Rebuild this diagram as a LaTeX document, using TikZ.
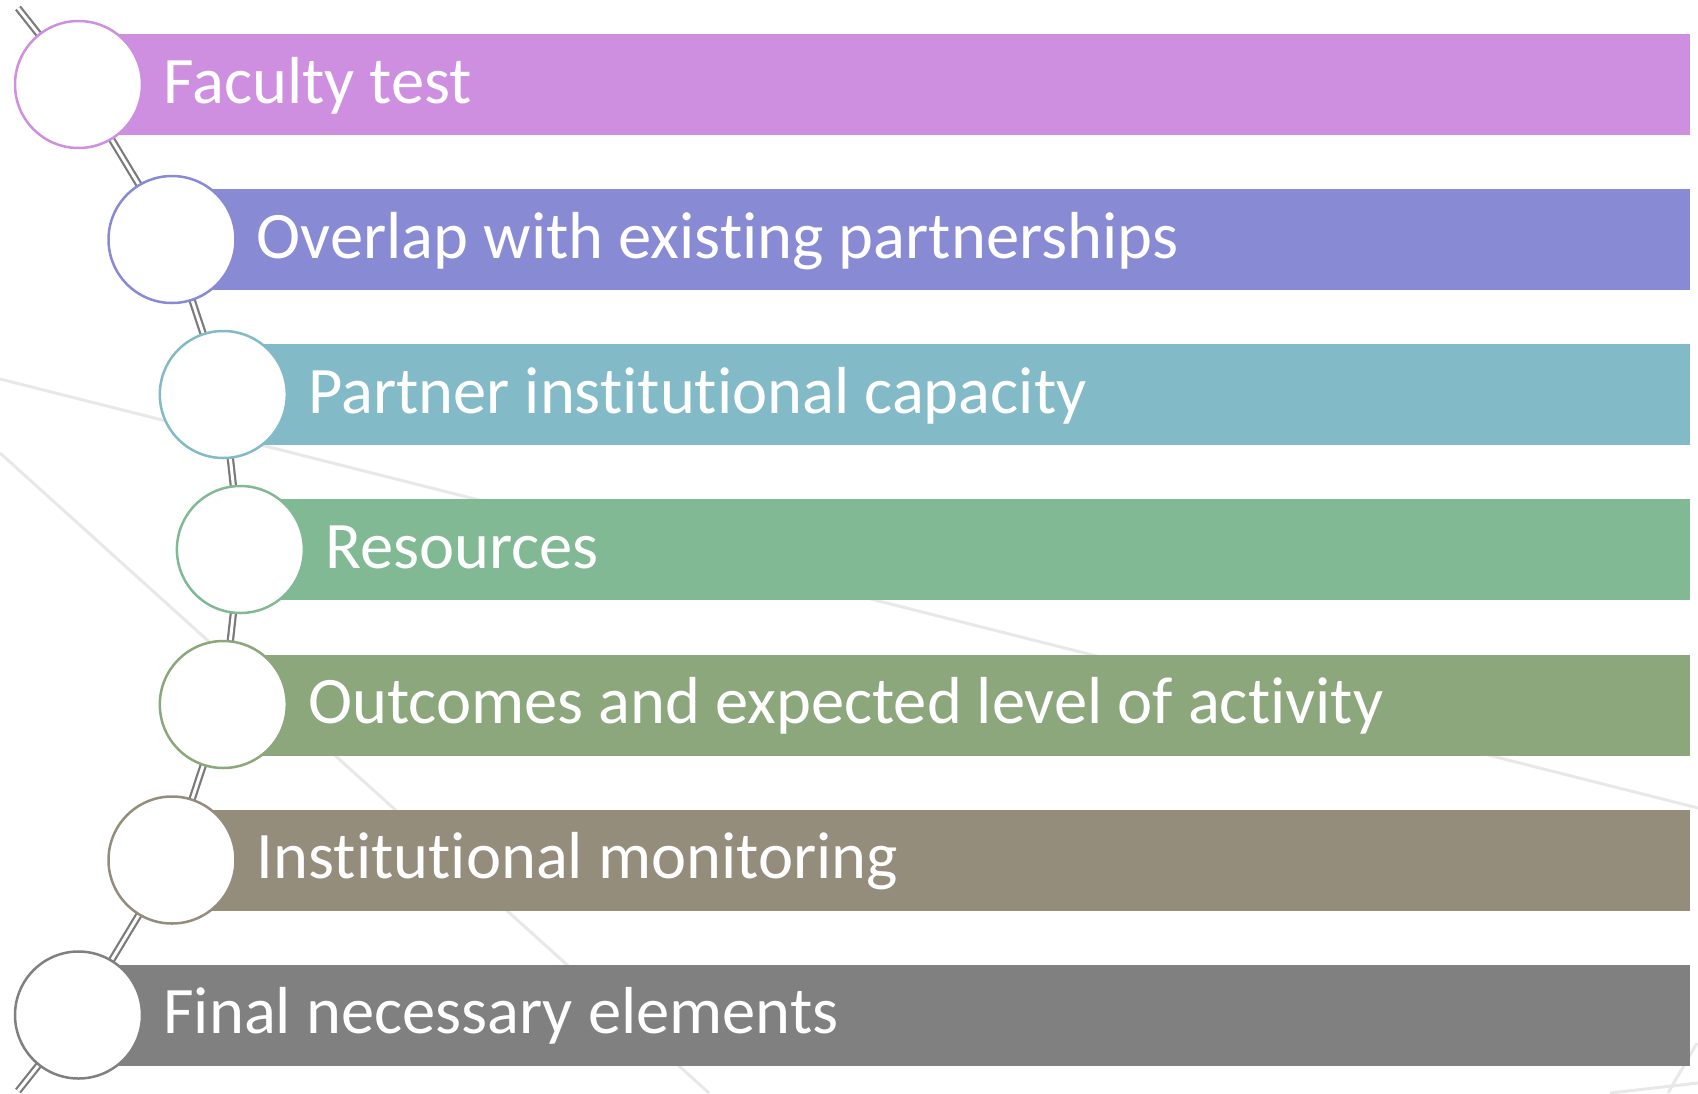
\documentclass[tikz,border=0pt]{standalone}
\usepackage{fontspec}
\setmainfont{Carlito}[Ligatures=NoCommon]
\usetikzlibrary{positioning}

\definecolor{facultyc}{HTML}{CE8FE0}
\definecolor{overlapc}{HTML}{888AD4}
\definecolor{capacityc}{HTML}{82BBC7}
\definecolor{resourcec}{HTML}{80B994}
\definecolor{outcomec}{HTML}{8BA77B}
\definecolor{monitorc}{HTML}{948D7C}
\definecolor{finalc}{HTML}{808080}
\definecolor{linkgray}{HTML}{7A7A7A}
\definecolor{bggray}{HTML}{E8E8E8}

\tikzset{
  stepdot/.style={circle, draw=#1, line width=2.5pt, fill=white, minimum size=127pt, inner sep=0pt},
  steptext/.style={text=white, inner sep=0pt, font=\fontsize{66.5pt}{78pt}\selectfont, text height=47pt, text depth=10pt},
  link/.style={draw=linkgray, line width=2.2pt, double=white, double distance=3pt},
  bgline/.style={draw=bggray, line width=3pt}
}

\begin{document}
\begin{tikzpicture}[x=1pt,y=-1pt]
    \useasboundingbox (0,0) rectangle (1698,1093);

        \draw[bgline] (0,379) -- (1698,808);
        \draw[bgline] (0,453) -- (709,1093);
        \draw[bgline] (1697,1043) -- (1668,1093);
        \draw[bgline] (1610,1093) -- (1698,1083);

        \coordinate (top) at (18,8);
        \coordinate (p1) at (78.5,84.5);
        \coordinate (p2) at (172,239.5);
        \coordinate (p3) at (223.3,394.5);
        \coordinate (p4) at (240.4,549.5);
        \coordinate (p5) at (223.3,704.5);
        \coordinate (p6) at (172,860);
        \coordinate (p7) at (78.5,1015);
        \coordinate (bot) at (18,1091);

        \draw[link] (top) -- (p1) -- (p2) -- (p3) -- (p4) -- (p5) -- (p6) -- (p7) -- (bot);

        \fill[facultyc] (78.5,34) rectangle (1690,135);
        \fill[overlapc] (172,189) rectangle (1690,290);
        \fill[capacityc] (223.3,344) rectangle (1690,445);
        \fill[resourcec] (240.4,499) rectangle (1690,600);
        \fill[outcomec] (223.3,655) rectangle (1690,756);
        \fill[monitorc] (172,810) rectangle (1690,911);
        \fill[finalc] (78.5,965) rectangle (1690,1066);

        \node[stepdot=facultyc] (c1) at (p1) {};
        \node[stepdot=overlapc] (c2) at (p2) {};
        \node[stepdot=capacityc] (c3) at (p3) {};
        \node[stepdot=resourcec] (c4) at (p4) {};
        \node[stepdot=outcomec] (c5) at (p5) {};
        \node[stepdot=monitorc] (c6) at (p6) {};
        \node[stepdot=finalc] (c7) at (p7) {};

        \node[steptext, right=20pt of c1] (t1) {Faculty test};
        \node[steptext, right=20pt of c2] (t2) {Overlap with existing partnerships};
        \node[steptext, right=20pt of c3] (t3) {Partner institutional capacity};
        \node[steptext, right=20pt of c4] (t4) {Resources};
        \node[steptext, right=20pt of c5] (t5) {Outcomes and expected level of activity};
        \node[steptext, right=20pt of c6] (t6) {Institutional monitoring};
        \node[steptext, right=20pt of c7] (t7) {Final necessary elements};

\end{tikzpicture}
\end{document}
